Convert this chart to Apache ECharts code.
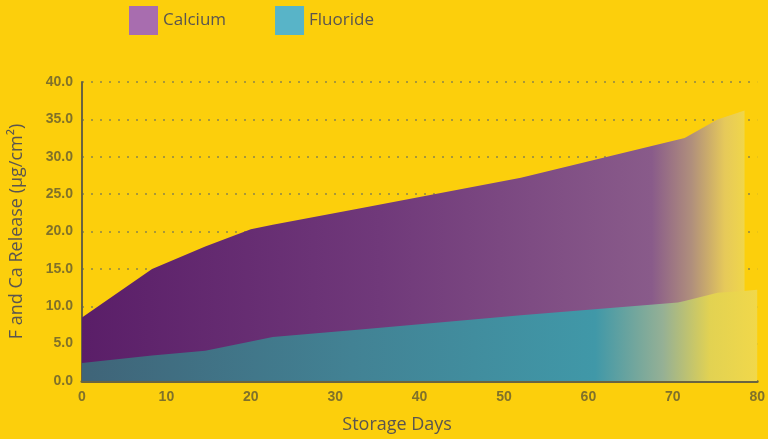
<!DOCTYPE html>
<html><head><meta charset="utf-8">
<script src="https://cdn.jsdelivr.net/npm/echarts@6/dist/echarts.min.js"></script>
<style>html,body{margin:0;padding:0;background:#fccf0c}#c{width:768px;height:439px}</style>
</head><body><div id="c"></div>
<script>
const days = [0, 8.3, 14.6, 20, 22.6, 33, 52, 70.6, 71.4, 75.3, 78, 80];
const calciumDays = [0, 8.3, 14.6, 20, 22.6, 33, 52, 71.4, 75.3, 78.5];
const calcium = [8.5, 15.0, 18.0, 20.3, 20.9, 23.1, 27.2, 32.5, 35.0, 36.2];
const fluoride = [2.4, 3.4, 4.05, 5.3, 5.9, 6.9, 8.8, 10.5, 10.7, 11.8, 12.0, 12.2];
const yTicks = [0, 5, 10, 15, 20, 25, 30, 35, 40];
const xTicks = [0, 10, 20, 30, 40, 50, 60, 70, 80];

const chart = echarts.init(document.getElementById('c'));
const pair = (xs, ys) => xs.map((d, i) => [d, ys[i]]);
const grad = (stops) => new echarts.graphic.LinearGradient(0, 0, 1, 0, stops.map(s => ({offset: s[0], color: s[1]})));
const tickStyle = {color: '#80712a', fontSize: 14, fontWeight: 'bold', fontFamily: 'Liberation Sans'};
chart.setOption({
  backgroundColor: '#fccf0c',
  animation: false,
  legend: {
    top: 1, left: 124, itemWidth: 29, itemHeight: 29, itemGap: 49,
    icon: 'rect',
    textStyle: {color: '#5a5550', fontSize: 17, fontFamily: 'Open Sans'},
    data: [{name: 'Calcium', itemStyle: {color: '#a86daf'}}, {name: 'Fluoride', itemStyle: {color: '#58b4c8'}}]
  },
  grid: {left: 79, right: 8, top: 82, bottom: 58},
  xAxis: {
    type: 'value', min: xTicks[0], max: xTicks[xTicks.length - 1], interval: 10,
    name: 'Storage Days', nameLocation: 'middle', nameGap: 35,
    nameTextStyle: {color: '#5a5550', fontSize: 18, fontFamily: 'Open Sans', padding: [0, 45, 0, 0]},
    axisLine: {show: true, lineStyle: {color: '#6a6440', width: 3}},
    axisTick: {show: false},
    axisLabel: Object.assign({margin: 9, formatter: v => String(v)}, tickStyle),
    splitLine: {show: false}
  },
  yAxis: {
    type: 'value', min: yTicks[0], max: yTicks[yTicks.length - 1], interval: 5,
    name: 'F and Ca Release (μg/cm²)', nameLocation: 'middle', nameGap: 56,
    nameTextStyle: {color: '#5a5550', fontSize: 18, fontFamily: 'Open Sans'},
    axisLine: {show: true, lineStyle: {color: '#6a6440', width: 2}},
    axisTick: {show: false},
    axisLabel: Object.assign({margin: 9, formatter: v => v.toFixed(1)}, tickStyle),
    splitLine: {show: true, lineStyle: {color: '#a8983a', type: [2, 7], width: 2}}
  },
  series: [
    {
      name: 'Calcium', type: 'line', data: pair(calciumDays, calcium), symbol: 'none',
      lineStyle: {width: 0}, itemStyle: {color: '#a86daf'},
      areaStyle: {opacity: 1, color: grad([[0, '#5a1e68'], [0.45, '#70397a'], [0.86, '#895b8a'], [0.92, '#b08f7c'], [0.97, '#e6c95a'], [1, '#f0d64a']])}
    },
    {
      name: 'Fluoride', type: 'line', data: pair(days, fluoride), symbol: 'none',
      lineStyle: {width: 0}, itemStyle: {color: '#58b4c8'},
      areaStyle: {opacity: 1, color: grad([[0, '#3f6478'], [0.4, '#428294'], [0.76, '#4098a8'], [0.86, '#95b095'], [0.93, '#e2d252'], [1, '#f1d84a']])}
    }
  ]
});
</script></body></html>
